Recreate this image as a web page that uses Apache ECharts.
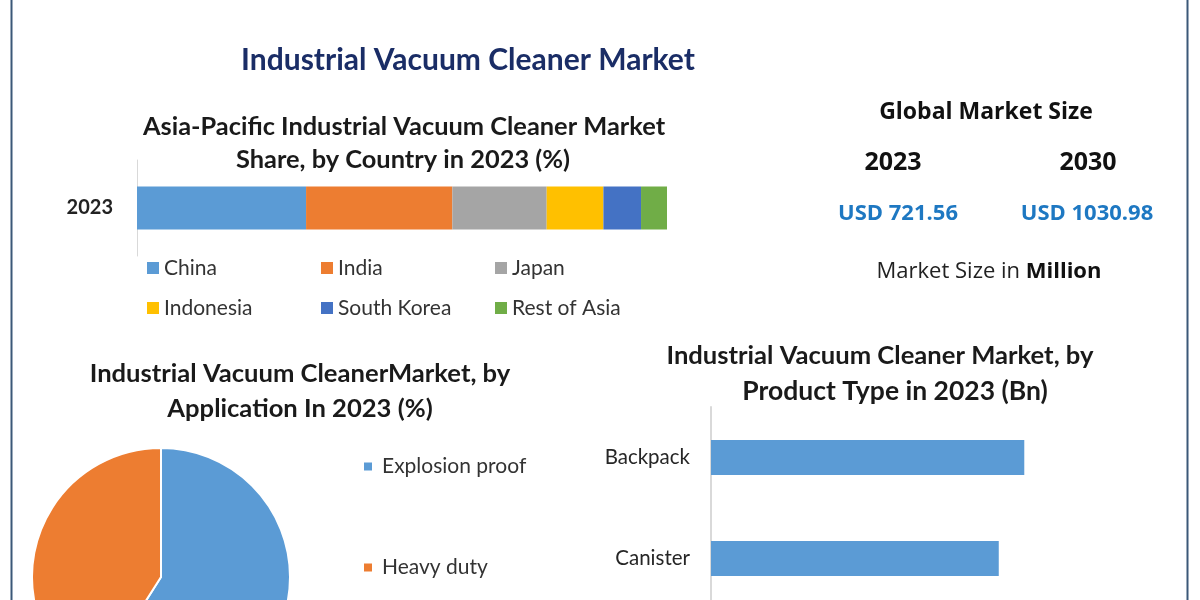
<!DOCTYPE html>
<html>
<head>
<meta charset="utf-8">
<script src="https://cdn.jsdelivr.net/npm/echarts@6/dist/echarts.min.js"></script>
<style>
html,body{margin:0;padding:0;background:#fff;}
#chart{width:1200px;height:600px;}
</style>
</head>
<body>
<div id="chart"></div>
<script>
// ---- Data ----
const countryNames = ['China', 'India', 'Japan', 'Indonesia', 'South Korea', 'Rest of Asia'];
const countryShare = [31.9, 27.6, 17.8, 10.7, 7.1, 4.9];
const countryColors = ['#5B9BD5', '#ED7D31', '#A5A5A5', '#FFC000', '#4472C4', '#70AD47'];
const shareYear = ['2023'];

const applicationNames = ['Explosion proof', 'Heavy duty'];
const applicationShare = [59, 41];
const applicationColors = ['#5B9BD5', '#ED7D31'];

const productTypes = ['Backpack', 'Canister'];
const productValues = [0.356, 0.327];
const productMax = 0.5;

const marketYears = ['2023', '2030'];
const marketValues = ['USD 721.56', 'USD 1030.98'];

// ---- Chart ----
const chart = echarts.init(document.getElementById('chart'));
const LBL = 'Lato, "Open Sans", sans-serif';
const HDR = '"Open Sans", "DejaVu Sans", sans-serif';

function txt(text, x, y, size, weight, color, family) {
  return {
    type: 'text', x: x, y: y, silent: true,
    style: {
      text: text, align: 'center', verticalAlign: 'middle',
      fontSize: size, fontWeight: weight, fill: color, fontFamily: family || LBL
    }
  };
}

const stackSeries = countryNames.map((n, i) => ({
  name: n, type: 'bar', stack: 'share', xAxisIndex: 0, yAxisIndex: 0,
  barWidth: 43, data: [countryShare[i]],
  itemStyle: { color: countryColors[i] },
  emphasis: { disabled: true }
}));

const option = {
  backgroundColor: '#ffffff',
  animation: false,
  grid: [
    { left: 137, width: 530, top: 160, height: 96, outerBoundsMode: 'none' },
    { left: 711, width: 440, top: 407, height: 202, outerBoundsMode: 'none' }
  ],
  xAxis: [
    { gridIndex: 0, type: 'value', min: 0, max: 100, show: false },
    { gridIndex: 1, type: 'value', min: 0, max: productMax, show: false }
  ],
  yAxis: [
    {
      gridIndex: 0, type: 'category', data: shareYear,
      axisLine: { show: true, lineStyle: { color: '#d9d9d9', width: 1 } },
      axisTick: { show: false },
      axisLabel: { margin: 24, fontSize: 20, fontWeight: 'bold', color: '#222', fontFamily: LBL }
    },
    {
      gridIndex: 1, type: 'category', data: productTypes, inverse: true,
      axisLine: { show: true, lineStyle: { color: '#d9d9d9', width: 2 } },
      axisTick: { show: false },
      axisLabel: { margin: 21, fontSize: 20.5, color: '#262626', fontFamily: LBL }
    }
  ],
  legend: [
    {
      data: countryNames, left: 147, top: 248, width: 530,
      orient: 'horizontal', itemWidth: 12, itemHeight: 12, itemGap: 0,
      icon: 'rect', selectedMode: false, padding: 0,
      textStyle: { fontSize: 21, color: '#333', width: 157, lineHeight: 40, fontFamily: LBL }
    },
    {
      data: applicationNames, left: 362, top: 456, orient: 'vertical',
      itemWidth: 10, itemHeight: 10, itemGap: 80, icon: 'rect', selectedMode: false, padding: 0,
      textStyle: { fontSize: 21, color: '#333', lineHeight: 20, fontFamily: LBL, padding: [0, 0, 0, 4] }
    }
  ],
  series: stackSeries.concat([
    {
      name: 'Application', type: 'pie', center: [161, 577], radius: 129,
      startAngle: 90, clockwise: true, label: { show: false }, labelLine: { show: false },
      emphasis: { disabled: true },
      itemStyle: { borderColor: '#fff', borderWidth: 2 },
      data: applicationNames.map((n, i) => ({ name: n, value: applicationShare[i], itemStyle: { color: applicationColors[i] } }))
    },
    {
      name: 'Product Type', type: 'bar', xAxisIndex: 1, yAxisIndex: 1,
      barWidth: 35, data: productValues, itemStyle: { color: '#5B9BD5' },
      emphasis: { disabled: true }
    }
  ]),
  graphic: [
    { type: 'line', silent: true, shape: { x1: 11.5, y1: 0, x2: 11.5, y2: 600 }, style: { stroke: '#3b5878', lineWidth: 2 } },
    { type: 'line', silent: true, shape: { x1: 1187.5, y1: 0, x2: 1187.5, y2: 600 }, style: { stroke: '#3b5878', lineWidth: 2 } },
    txt('Industrial Vacuum Cleaner Market', 468, 60, 30, 'bold', '#1a2d66'),
    txt('Asia-Pacific Industrial Vacuum Cleaner Market', 404, 127, 25.4, 'bold', '#1a1a1a'),
    txt('Share, by Country in 2023 (%)', 403, 160, 25.4, 'bold', '#1a1a1a'),
    txt('Industrial Vacuum CleanerMarket, by', 300, 374, 25.6, 'bold', '#1a1a1a'),
    txt('Application In 2023 (%)', 300, 409, 25.6, 'bold', '#1a1a1a'),
    txt('Industrial Vacuum Cleaner Market, by', 880, 356, 25.6, 'bold', '#1a1a1a'),
    txt('Product Type in 2023 (Bn)', 895, 391, 26.5, 'bold', '#1a1a1a'),
    txt('Global Market Size', 986, 112, 23, 'bold', '#111', HDR),
    txt(marketYears[0], 893, 163, 25, 'bold', '#111', HDR),
    txt(marketYears[1], 1088, 163, 25, 'bold', '#111', HDR),
    txt(marketValues[0], 898, 214, 22, 'bold', '#1e78c2', HDR),
    txt(marketValues[1], 1087, 214, 22, 'bold', '#1e78c2', HDR),
    {
      type: 'text', x: 989, y: 272, silent: true,
      style: {
        text: '{a|Market Size in }{b|Million}', align: 'center', verticalAlign: 'middle',
        rich: {
          a: { fontSize: 22, fontFamily: HDR, fill: '#222', fontWeight: 'normal' },
          b: { fontSize: 22, fontFamily: HDR, fill: '#111', fontWeight: 'bold' }
        }
      }
    }
  ]
};
chart.setOption(option);
</script>
</body>
</html>
